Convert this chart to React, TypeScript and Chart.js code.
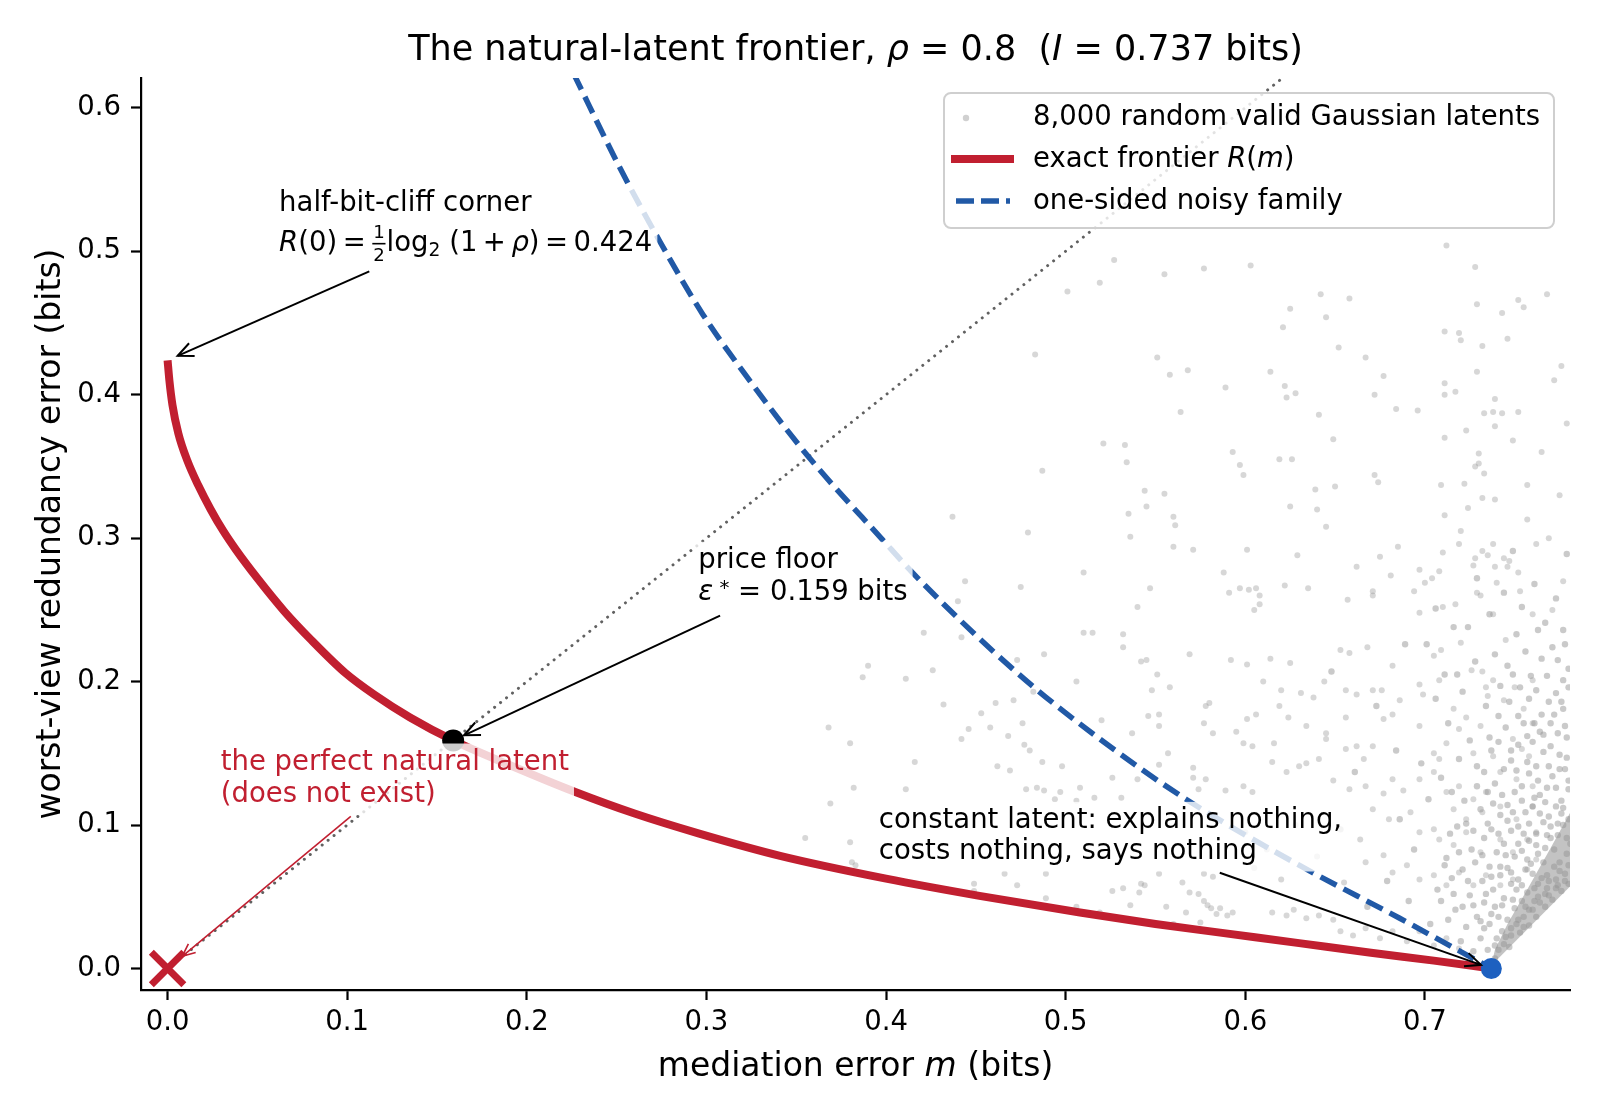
import React, { useEffect, useRef } from 'react';
import { Chart, registerables } from 'chart.js';

Chart.register(...registerables);

const FONT = "'DejaVu Sans', 'Noto Sans', sans-serif";
const RED = '#c11f30';
const NOISY_BLUE = '#2159a6';
const DOT_BLUE = '#1d60c0';
const TICK_SIZE = 27.5;
const NOTE_SIZE = 27.5;
const THIN = '\u2009';

// axis ranges and ticks
const X_MIN = -0.0148;
const X_MAX = 0.7808;
const Y_MIN = -0.015;
const Y_MAX = 0.6208;
const xTicks = [0, 0.1, 0.2, 0.3, 0.4, 0.5, 0.6, 0.7];
const yTicks = [0, 0.1, 0.2, 0.3, 0.4, 0.5, 0.6];

// exact frontier R(m)
const frontierM = [0, 0.001, 0.0027, 0.006, 0.011, 0.017, 0.024, 0.031, 0.038, 0.05, 0.065, 0.08, 0.099, 0.115, 0.135, 0.159, 0.19, 0.227, 0.26, 0.296, 0.341, 0.4, 0.452, 0.508, 0.55, 0.586, 0.63, 0.67, 0.705, 0.737];
const frontierR = [0.424, 0.41, 0.393, 0.373, 0.354, 0.337, 0.32, 0.305, 0.292, 0.272, 0.249, 0.229, 0.206, 0.191, 0.175, 0.159, 0.142, 0.123, 0.108, 0.094, 0.0785, 0.0626, 0.0506, 0.039, 0.031, 0.025, 0.0177, 0.011, 0.0055, 0.0];

// one-sided noisy family
const noisyM = [0.226, 0.2515, 0.274, 0.298, 0.324, 0.356, 0.398, 0.417, 0.474, 0.519, 0.567, 0.63, 0.686, 0.737];
const noisyR = [0.624, 0.559, 0.507, 0.456, 0.41, 0.358, 0.299, 0.273, 0.205, 0.16, 0.118, 0.072, 0.035, 0.0];

// the m = R diagonal
const diagonalM = [0, 0.625];
const diagonalR = [0, 0.625];

// special points
const perfectLatent = [0, 0];
const priceFloor = [0.159, 0.159];
const constantLatent = [0.737, 0];

// solid-looking core of the cloud, next to the constant latent
const denseCoreM = [0.737, 0.7815, 0.7815, 0.77, 0.757, 0.746, 0.739, 0.737];
const denseCoreR = [0.002, 0.058, 0.11, 0.084, 0.055, 0.031, 0.013, 0.002];

// random valid Gaussian latents (a sample of the cloud)
const upperLatents: [number, number][] = [
  [0.527, 0.494], [0.501, 0.472], [0.519, 0.478], [0.555, 0.484], [0.577, 0.488], [0.603, 0.49], [0.712, 0.504], [0.728, 0.489],
  [0.642, 0.47], [0.658, 0.467], [0.625, 0.46], [0.645, 0.454], [0.621, 0.447], [0.729, 0.463], [0.743, 0.457], [0.752, 0.466],
  [0.755, 0.461], [0.711, 0.444], [0.719, 0.443], [0.72, 0.438], [0.732, 0.434], [0.746, 0.439], [0.652, 0.433], [0.667, 0.426],
  [0.483, 0.428], [0.551, 0.426], [0.558, 0.414], [0.568, 0.417], [0.614, 0.416], [0.589, 0.405], [0.622, 0.406], [0.628, 0.401],
  [0.623, 0.398], [0.677, 0.413], [0.672, 0.4], [0.729, 0.416], [0.711, 0.408], [0.711, 0.4], [0.717, 0.402], [0.739, 0.397],
  [0.733, 0.387], [0.738, 0.388], [0.743, 0.387], [0.752, 0.388], [0.739, 0.378], [0.564, 0.388], [0.641, 0.386], [0.684, 0.39],
  [0.696, 0.389], [0.723, 0.375], [0.711, 0.37], [0.749, 0.368], [0.649, 0.369], [0.521, 0.366], [0.533, 0.365], [0.534, 0.353],
  [0.593, 0.36], [0.597, 0.351], [0.599, 0.344], [0.619, 0.355], [0.626, 0.355], [0.73, 0.359], [0.73, 0.352], [0.728, 0.35],
  [0.733, 0.345], [0.487, 0.347], [0.672, 0.344], [0.674, 0.339], [0.639, 0.334], [0.65, 0.336], [0.709, 0.337], [0.722, 0.338],
  [0.757, 0.337], [0.544, 0.333], [0.555, 0.331], [0.732, 0.328], [0.739, 0.327], [0.535, 0.317], [0.545, 0.322], [0.625, 0.322],
  [0.64, 0.32], [0.724, 0.321], [0.711, 0.316], [0.56, 0.315], [0.561, 0.309], [0.645, 0.308], [0.757, 0.313], [0.479, 0.304],
  [0.536, 0.301], [0.72, 0.305], [0.56, 0.294], [0.571, 0.292], [0.601, 0.292], [0.685, 0.294], [0.719, 0.296], [0.738, 0.296],
  [0.762, 0.296], [0.71, 0.29], [0.732, 0.291], [0.629, 0.288], [0.675, 0.287], [0.662, 0.28], [0.728, 0.286], [0.735, 0.288],
  [0.744, 0.286], [0.747, 0.284], [0.727, 0.281], [0.739, 0.28], [0.746, 0.28], [0.752, 0.276], [0.697, 0.278], [0.708, 0.277],
  [0.704, 0.272], [0.7, 0.269], [0.681, 0.274], [0.51, 0.276], [0.588, 0.276], [0.475, 0.266], [0.547, 0.265], [0.622, 0.267],
  [0.635, 0.265], [0.591, 0.262], [0.597, 0.265], [0.602, 0.264], [0.606, 0.265], [0.608, 0.26], [0.671, 0.263], [0.671, 0.26],
  [0.694, 0.263], [0.74, 0.269], [0.753, 0.263], [0.729, 0.262], [0.731, 0.26], [0.657, 0.257], [0.54, 0.252], [0.608, 0.254],
  [0.605, 0.25], [0.71, 0.252], [0.717, 0.254], [0.697, 0.248], [0.738, 0.247], [0.76, 0.247], [0.437, 0.315],
  [0.768, 0.47], [0.772, 0.41], [0.765, 0.36], [0.775, 0.33], [0.769, 0.3], [0.777, 0.27], [0.771, 0.25], [0.776, 0.42], [0.779, 0.38],
];

const middleLatents: [number, number][] = [
  [0.444, 0.27], [0.44, 0.256], [0.421, 0.234], [0.442, 0.231], [0.51, 0.234], [0.515, 0.234], [0.532, 0.233], [0.532, 0.224],
  [0.569, 0.219], [0.488, 0.219], [0.473, 0.215], [0.542, 0.214], [0.545, 0.215], [0.551, 0.205], [0.39, 0.211], [0.387, 0.203],
  [0.411, 0.202], [0.426, 0.208], [0.506, 0.2], [0.548, 0.194], [0.558, 0.196], [0.482, 0.193], [0.461, 0.185], [0.471, 0.187],
  [0.432, 0.184], [0.453, 0.178], [0.546, 0.176], [0.552, 0.177], [0.552, 0.169], [0.578, 0.183], [0.58, 0.185], [0.52, 0.173],
  [0.476, 0.171], [0.446, 0.167], [0.458, 0.168], [0.368, 0.168], [0.468, 0.162], [0.537, 0.164], [0.577, 0.171], [0.442, 0.16],
  [0.38, 0.157], [0.477, 0.156], [0.48, 0.152], [0.582, 0.164], [0.557, 0.15], [0.416, 0.144], [0.487, 0.144], [0.462, 0.141],
  [0.469, 0.138], [0.498, 0.141], [0.552, 0.142], [0.571, 0.14], [0.571, 0.133], [0.526, 0.133], [0.54, 0.132], [0.578, 0.132],
  [0.382, 0.126], [0.411, 0.125], [0.478, 0.125], [0.484, 0.126], [0.488, 0.124], [0.497, 0.123], [0.508, 0.126], [0.574, 0.125],
  [0.516, 0.119], [0.531, 0.119], [0.494, 0.118], [0.506, 0.117], [0.369, 0.115], [0.355, 0.091], [0.38, 0.088], [0.381, 0.074],
  [0.383, 0.072], [0.466, 0.066], [0.473, 0.058], [0.489, 0.066], [0.449, 0.059], [0.449, 0.054], [0.526, 0.054], [0.532, 0.056],
  [0.542, 0.059], [0.541, 0.053], [0.544, 0.058], [0.552, 0.066], [0.565, 0.06], [0.569, 0.053], [0.574, 0.052], [0.577, 0.047],
  [0.579, 0.044], [0.581, 0.042], [0.575, 0.032], [0.584, 0.038], [0.489, 0.049], [0.506, 0.043], [0.519, 0.039], [0.536, 0.044],
  [0.556, 0.043], [0.567, 0.039], [0.56, 0.031], [0.577, 0.066], [0.582, 0.064],
];

const lowerLatents: [number, number][] = [
  [0.592, 0.215], [0.601, 0.212], [0.614, 0.216], [0.625, 0.213], [0.653, 0.222], [0.658, 0.22], [0.668, 0.224], [0.682, 0.211],
  [0.705, 0.218], [0.709, 0.222], [0.72, 0.227], [0.726, 0.208], [0.732, 0.207], [0.745, 0.229], [0.738, 0.201], [0.734, 0.196],
  [0.75, 0.196], [0.76, 0.201], [0.61, 0.2], [0.62, 0.194], [0.631, 0.192], [0.638, 0.189], [0.644, 0.2], [0.656, 0.194],
  [0.662, 0.191], [0.671, 0.194], [0.676, 0.194], [0.697, 0.198], [0.699, 0.191], [0.708, 0.201], [0.716, 0.181], [0.723, 0.175],
  [0.735, 0.19], [0.744, 0.187], [0.755, 0.181], [0.76, 0.171], [0.595, 0.165], [0.601, 0.174], [0.606, 0.177], [0.619, 0.183],
  [0.624, 0.175], [0.634, 0.169], [0.645, 0.164], [0.645, 0.16], [0.656, 0.175], [0.656, 0.153], [0.662, 0.155], [0.666, 0.146],
  [0.671, 0.155], [0.677, 0.174], [0.682, 0.177], [0.686, 0.187], [0.697, 0.169], [0.705, 0.15], [0.708, 0.146], [0.712, 0.157],
  [0.719, 0.167], [0.731, 0.169], [0.727, 0.15], [0.738, 0.148], [0.749, 0.16], [0.754, 0.153], [0.758, 0.148], [0.742, 0.137],
  [0.751, 0.132], [0.76, 0.127], [0.599, 0.157], [0.604, 0.155], [0.616, 0.157], [0.589, 0.124], [0.599, 0.127], [0.604, 0.123],
  [0.615, 0.144], [0.623, 0.137], [0.63, 0.141], [0.634, 0.143], [0.641, 0.146], [0.649, 0.131], [0.658, 0.125], [0.667, 0.127],
  [0.677, 0.122], [0.688, 0.124], [0.682, 0.132], [0.697, 0.132], [0.705, 0.137], [0.712, 0.123], [0.719, 0.127], [0.727, 0.118],
  [0.734, 0.123], [0.716, 0.111], [0.723, 0.104], [0.732, 0.109], [0.742, 0.113], [0.751, 0.104], [0.76, 0.113], [0.671, 0.111],
  [0.68, 0.104], [0.692, 0.109], [0.697, 0.095], [0.705, 0.097], [0.708, 0.09], [0.716, 0.086], [0.723, 0.095], [0.731, 0.081],
  [0.742, 0.09], [0.749, 0.081], [0.757, 0.09], [0.762, 0.095], [0.664, 0.09], [0.667, 0.074], [0.677, 0.079], [0.682, 0.067],
  [0.69, 0.072], [0.697, 0.062], [0.705, 0.065], [0.712, 0.058], [0.719, 0.067], [0.727, 0.058], [0.734, 0.065], [0.742, 0.058],
  [0.749, 0.062], [0.757, 0.069], [0.762, 0.076], [0.586, 0.042], [0.59, 0.037], [0.593, 0.039], [0.615, 0.039], [0.623, 0.037],
  [0.627, 0.041], [0.634, 0.035], [0.641, 0.037], [0.649, 0.034], [0.653, 0.026], [0.66, 0.023], [0.667, 0.028], [0.675, 0.021],
  [0.682, 0.026], [0.69, 0.019], [0.697, 0.026], [0.705, 0.016], [0.712, 0.021], [0.719, 0.014], [0.6, 0.095], [0.612, 0.083],
  [0.628, 0.1], [0.64, 0.078], [0.655, 0.06], [0.62, 0.062], [0.605, 0.07],
];

const denseLatents: [number, number][] = [
  [0.739, 0.007], [0.741, 0.013], [0.744, 0.017], [0.747, 0.015], [0.748, 0.023], [0.743, 0.026], [0.751, 0.031], [0.753, 0.025],
  [0.755, 0.036], [0.758, 0.03], [0.76, 0.041], [0.762, 0.036], [0.764, 0.046], [0.767, 0.043], [0.769, 0.051], [0.771, 0.048],
  [0.773, 0.056], [0.776, 0.054], [0.778, 0.061], [0.78, 0.059], [0.74, 0.021], [0.746, 0.034], [0.75, 0.042], [0.754, 0.047],
  [0.757, 0.053], [0.761, 0.056], [0.765, 0.063], [0.768, 0.065], [0.772, 0.071], [0.775, 0.074], [0.779, 0.08], [0.781, 0.087],
  [0.736, 0.031], [0.739, 0.043], [0.744, 0.049], [0.748, 0.059], [0.752, 0.062], [0.756, 0.069], [0.759, 0.073], [0.763, 0.08],
  [0.767, 0.084], [0.77, 0.091], [0.774, 0.093], [0.777, 0.1], [0.78, 0.104], [0.733, 0.046], [0.738, 0.055], [0.742, 0.065],
  [0.746, 0.07], [0.75, 0.078], [0.754, 0.082], [0.758, 0.089], [0.762, 0.094], [0.766, 0.102], [0.769, 0.106], [0.773, 0.113],
  [0.776, 0.117], [0.78, 0.125], [0.729, 0.036], [0.732, 0.061], [0.736, 0.071], [0.74, 0.081], [0.744, 0.087], [0.748, 0.096],
  [0.752, 0.099], [0.756, 0.109], [0.76, 0.113], [0.764, 0.121], [0.768, 0.126], [0.771, 0.134], [0.775, 0.139], [0.779, 0.147],
  [0.725, 0.051], [0.728, 0.074], [0.733, 0.091], [0.737, 0.097], [0.742, 0.107], [0.746, 0.114], [0.75, 0.123], [0.754, 0.127],
  [0.758, 0.136], [0.762, 0.141], [0.766, 0.151], [0.77, 0.155], [0.774, 0.164], [0.778, 0.169], [0.721, 0.069], [0.727, 0.096],
  [0.731, 0.111], [0.735, 0.123], [0.739, 0.129], [0.744, 0.139], [0.748, 0.145], [0.752, 0.156], [0.757, 0.162], [0.761, 0.171],
  [0.765, 0.177], [0.769, 0.186], [0.773, 0.192], [0.777, 0.201], [0.78, 0.209], [0.717, 0.041], [0.723, 0.029], [0.731, 0.021],
  [0.735, 0.013], [0.727, 0.012], [0.72, 0.019], [0.713, 0.034], [0.709, 0.047], [0.715, 0.063], [0.719, 0.081], [0.723, 0.101],
  [0.729, 0.141], [0.736, 0.161], [0.741, 0.176], [0.747, 0.186], [0.753, 0.196], [0.759, 0.204], [0.765, 0.216], [0.771, 0.224],
  [0.777, 0.236],
  [0.703, 0.031], [0.707, 0.055], [0.711, 0.072], [0.714, 0.094], [0.702, 0.118], [0.709, 0.133], [0.713, 0.171], [0.706, 0.188],
  [0.718, 0.205], [0.701, 0.226], [0.721, 0.043], [0.724, 0.061], [0.726, 0.083], [0.722, 0.117], [0.729, 0.127], [0.725, 0.159],
  [0.721, 0.193], [0.728, 0.214], [0.724, 0.238], [0.729, 0.272], [0.733, 0.028], [0.734, 0.052], [0.737, 0.064], [0.732, 0.079],
  [0.735, 0.101], [0.738, 0.115], [0.733, 0.137], [0.737, 0.152], [0.734, 0.183], [0.739, 0.219], [0.736, 0.247], [0.741, 0.036],
  [0.743, 0.044], [0.742, 0.071], [0.745, 0.079], [0.741, 0.094], [0.746, 0.103], [0.743, 0.121], [0.741, 0.158], [0.745, 0.168],
  [0.742, 0.197], [0.746, 0.211], [0.744, 0.262], [0.748, 0.028], [0.749, 0.048], [0.751, 0.055], [0.748, 0.067], [0.752, 0.087],
  [0.749, 0.109], [0.751, 0.138], [0.748, 0.152], [0.752, 0.176], [0.749, 0.205], [0.751, 0.233], [0.749, 0.291], [0.755, 0.029],
  [0.756, 0.043], [0.754, 0.058], [0.757, 0.076], [0.755, 0.094], [0.758, 0.101], [0.754, 0.117], [0.757, 0.144], [0.755, 0.171],
  [0.758, 0.188], [0.756, 0.221], [0.754, 0.252], [0.761, 0.047], [0.763, 0.059], [0.76, 0.066], [0.762, 0.086], [0.764, 0.108],
  [0.761, 0.119], [0.763, 0.131], [0.76, 0.158], [0.764, 0.165], [0.762, 0.194], [0.763, 0.236], [0.761, 0.268], [0.767, 0.052],
  [0.769, 0.061], [0.766, 0.074], [0.768, 0.093], [0.77, 0.099], [0.767, 0.116], [0.769, 0.141], [0.766, 0.163], [0.77, 0.171],
  [0.768, 0.204], [0.767, 0.241], [0.773, 0.062], [0.775, 0.068], [0.772, 0.083], [0.774, 0.101], [0.776, 0.108], [0.773, 0.126],
  [0.775, 0.149], [0.772, 0.177], [0.776, 0.186], [0.774, 0.215], [0.773, 0.258], [0.778, 0.066], [0.78, 0.072], [0.779, 0.091],
  [0.777, 0.112], [0.78, 0.131], [0.778, 0.139], [0.779, 0.161], [0.777, 0.181], [0.78, 0.196], [0.778, 0.226], [0.779, 0.289],
  [0.745, 0.022], [0.752, 0.034], [0.758, 0.041], [0.763, 0.05], [0.768, 0.056], [0.774, 0.058], [0.739, 0.016], [0.737, 0.038],
  [0.731, 0.033], [0.727, 0.044], [0.716, 0.052], [0.712, 0.077], [0.718, 0.099], [0.715, 0.123], [0.719, 0.146], [0.711, 0.205],
  [0.716, 0.238], [0.706, 0.251], [0.698, 0.143], [0.694, 0.083], [0.691, 0.047], [0.686, 0.104], [0.684, 0.152], [0.689, 0.226],
  [0.679, 0.061], [0.673, 0.183], [0.668, 0.043], [0.661, 0.137], [0.653, 0.097], [0.648, 0.207],
];

type Run = { t: string; it?: boolean; sc?: number; dy?: number; frac?: [string, string] };

const titleRuns: Run[] = [
  { t: 'The natural-latent frontier, ' }, { t: 'ρ', it: true }, { t: ' = 0.8  (' }, { t: 'I', it: true }, { t: ' = 0.737 bits)' },
];
const xLabelRuns: Run[] = [{ t: 'mediation error ' }, { t: 'm', it: true }, { t: ' (bits)' }];
const yLabelRuns: Run[] = [{ t: 'worst-view redundancy error (bits)' }];
const legendRuns: Run[][] = [
  [{ t: '8,000 random valid Gaussian latents' }],
  [{ t: 'exact frontier ' }, { t: 'R', it: true }, { t: '(' }, { t: 'm', it: true }, { t: ')' }],
  [{ t: 'one-sided noisy family' }],
];

const notes = [
  {
    lines: [
      [{ t: 'half-bit-cliff corner' }],
      [
        { t: 'R', it: true }, { t: `(0)${THIN}=${THIN}` }, { t: '', frac: ['1', '2'] }, { t: 'log' }, { t: '2', sc: 0.68, dy: 0.15 },
        { t: ` (1${THIN}+${THIN}` }, { t: 'ρ', it: true }, { t: `)${THIN}=${THIN}0.424` },
      ],
    ] as Run[][],
    at: [0.0621, 0.5278], gap: 40, color: '#000', descent: 0.42,
    from: [0.1123, 0.486], to: [0, 0.424], shrink: 11, width: 2, head: 17,
  },
  {
    lines: [[{ t: 'price floor' }], [{ t: 'ε', it: true }, { t: ' *', sc: 0.72, dy: -0.24 }, { t: ' = 0.159 bits' }]] as Run[][],
    at: [0.2955, 0.279], gap: 32, color: '#000', descent: 0.26,
    from: [0.3076, 0.246], to: priceFloor, shrink: 12, width: 2, head: 17,
  },
  {
    lines: [[{ t: 'the perfect natural latent' }], [{ t: '(does not exist)' }]] as Run[][],
    at: [0.0296, 0.1384], gap: 32, color: RED, descent: 0.26,
    from: [0.102, 0.106], to: perfectLatent, shrink: 19, width: 1.6, head: 14,
  },
  {
    lines: [[{ t: 'constant latent: explains nothing,' }], [{ t: 'costs nothing, says nothing' }]] as Run[][],
    at: [0.396, 0.0977], gap: 31, color: '#000', descent: 0.26,
    from: [0.5858, 0.0667], to: constantLatent, shrink: 11, width: 2, head: 17,
  },
];

function setFont(ctx: CanvasRenderingContext2D, size: number, italic = false) {
  ctx.font = `${italic ? 'italic ' : ''}${size}px ${FONT}`;
}

function runWidth(ctx: CanvasRenderingContext2D, r: Run, size: number): number {
  if (r.frac) {
    setFont(ctx, size * 0.66);
    return Math.max(ctx.measureText(r.frac[0]).width, ctx.measureText(r.frac[1]).width) + size * 0.14;
  }
  setFont(ctx, size * (r.sc ?? 1), r.it);
  return ctx.measureText(r.t).width;
}

function lineWidth(ctx: CanvasRenderingContext2D, runs: Run[], size: number) {
  return runs.reduce((s, r) => s + runWidth(ctx, r, size), 0);
}

function drawRuns(ctx: CanvasRenderingContext2D, runs: Run[], x: number, y: number, size: number, color: string, align = 'left') {
  const widths = runs.map((r) => runWidth(ctx, r, size));
  const total = widths.reduce((a, b) => a + b, 0);
  let cx = align === 'center' ? x - total / 2 : x;
  ctx.save();
  ctx.fillStyle = color;
  ctx.textBaseline = 'alphabetic';
  runs.forEach((r, i) => {
    const w = widths[i];
    if (r.frac) {
      setFont(ctx, size * 0.66);
      const mid = cx + w / 2;
      ctx.textAlign = 'center';
      ctx.fillText(r.frac[0], mid, y - size * 0.5);
      ctx.fillText(r.frac[1], mid, y + size * 0.34);
      ctx.fillRect(cx + size * 0.04, y - size * 0.31, w - size * 0.08, 1.6);
    } else {
      ctx.textAlign = 'left';
      setFont(ctx, size * (r.sc ?? 1), r.it);
      ctx.fillText(r.t, cx, y + (r.dy ?? 0) * size);
    }
    cx += w;
  });
  ctx.restore();
  return total;
}

function drawArrow(ctx: CanvasRenderingContext2D, x1: number, y1: number, x2: number, y2: number, shrink: number, color: string, width: number, head: number) {
  const ang = Math.atan2(y2 - y1, x2 - x1);
  const tx = x2 - Math.cos(ang) * shrink;
  const ty = y2 - Math.sin(ang) * shrink;
  ctx.save();
  ctx.strokeStyle = color;
  ctx.lineWidth = width;
  ctx.beginPath();
  ctx.moveTo(x1, y1);
  ctx.lineTo(tx, ty);
  ctx.stroke();
  ctx.beginPath();
  ctx.moveTo(tx - head * Math.cos(ang - 0.42), ty - head * Math.sin(ang - 0.42));
  ctx.lineTo(tx, ty);
  ctx.lineTo(tx - head * Math.cos(ang + 0.42), ty - head * Math.sin(ang + 0.42));
  ctx.stroke();
  ctx.restore();
}

const overlayPlugin = {
  id: 'overlay',
  afterDatasetsDraw(chart: any) {
    const ctx: CanvasRenderingContext2D = chart.ctx;
    const xs = chart.scales.x;
    const ys = chart.scales.y;
    const pad = 5;
    // translucent boxes behind the annotation texts
    notes.forEach((n) => {
      const px = xs.getPixelForValue(n.at[0]);
      const py = ys.getPixelForValue(n.at[1]);
      const w = Math.max(...n.lines.map((l) => lineWidth(ctx, l, NOTE_SIZE)));
      const top = py - NOTE_SIZE * 0.78 - pad;
      const bottom = py + n.gap * (n.lines.length - 1) + NOTE_SIZE * n.descent + pad;
      ctx.save();
      ctx.fillStyle = 'rgba(255,255,255,0.8)';
      ctx.fillRect(px - pad, top, w + 2 * pad, bottom - top);
      ctx.restore();
    });
    notes.forEach((n) => {
      const px = xs.getPixelForValue(n.at[0]);
      const py = ys.getPixelForValue(n.at[1]);
      n.lines.forEach((l, i) => drawRuns(ctx, l, px, py + i * n.gap, NOTE_SIZE, n.color));
      drawArrow(
        ctx,
        xs.getPixelForValue(n.from[0]), ys.getPixelForValue(n.from[1]),
        xs.getPixelForValue(n.to[0]), ys.getPixelForValue(n.to[1]),
        n.shrink, n.color, n.width, n.head,
      );
    });
  },
  afterDraw(chart: any) {
    const ctx: CanvasRenderingContext2D = chart.ctx;
    const ca = chart.chartArea;
    const cx = (ca.left + ca.right) / 2;
    drawRuns(ctx, titleRuns, cx, 60, 35, '#000', 'center');
    drawRuns(ctx, xLabelRuns, cx, 1076, 33, '#000', 'center');
    ctx.save();
    ctx.translate(60, (ca.top + ca.bottom) / 2);
    ctx.rotate(-Math.PI / 2);
    drawRuns(ctx, yLabelRuns, 0, 0, 33, '#000', 'center');
    ctx.restore();

    // legend
    const lw = 610;
    const lh = 135;
    const lx = ca.right - 16 - lw;
    const ly = ca.top + 15;
    ctx.save();
    ctx.beginPath();
    ctx.roundRect(lx, ly, lw, lh, 7);
    ctx.fillStyle = 'rgba(255,255,255,0.82)';
    ctx.fill();
    ctx.strokeStyle = '#cfcfcf';
    ctx.lineWidth = 2;
    ctx.stroke();
    const hx = lx + 7;
    ctx.fillStyle = 'rgba(150,150,150,0.45)';
    ctx.beginPath();
    ctx.arc(lx + 22, ly + 25, 3.2, 0, Math.PI * 2);
    ctx.fill();
    ctx.strokeStyle = RED;
    ctx.lineWidth = 8;
    ctx.beginPath();
    ctx.moveTo(hx, ly + 66);
    ctx.lineTo(hx + 63, ly + 66);
    ctx.stroke();
    ctx.strokeStyle = NOISY_BLUE;
    ctx.lineWidth = 5.5;
    ctx.setLineDash([18, 7]);
    ctx.beginPath();
    ctx.moveTo(hx + 5, ly + 108);
    ctx.lineTo(hx + 59, ly + 108);
    ctx.stroke();
    ctx.restore();
    legendRuns.forEach((l, i) => drawRuns(ctx, l, lx + 89, ly + 32 + i * 42, NOTE_SIZE, '#000'));
  },
};

const toPoints = (xs: number[], ys: number[]) => xs.map((x, i) => ({ x, y: ys[i] }));

export default function App() {
  const canvasRef = useRef<HTMLCanvasElement>(null);

  useEffect(() => {
    document.body.style.margin = '0';
    if (!canvasRef.current) return;
    const sparse = [...upperLatents, ...middleLatents, ...lowerLatents].map(([x, y]) => ({ x, y }));
    const dense = denseLatents.map(([x, y]) => ({ x, y }));

    const axisCommon = {
      type: 'linear' as const,
      grid: { display: true, drawOnChartArea: false, drawTicks: true, tickLength: 10, tickWidth: 2.2, tickColor: '#000' },
      border: { display: true, color: '#000', width: 2.2 },
    };

    const chart = new Chart(canvasRef.current, {
      type: 'line',
      data: {
        datasets: [
          {
            data: [{ x: perfectLatent[0], y: perfectLatent[1] }],
            showLine: false, pointStyle: 'crossRot', pointRadius: 23, borderColor: RED, borderWidth: 7,
            backgroundColor: RED, order: 0,
          },
          {
            data: [{ x: priceFloor[0], y: priceFloor[1] }],
            showLine: false, pointStyle: 'circle', pointRadius: 11, backgroundColor: '#000', borderWidth: 0, order: 0,
          },
          {
            data: [{ x: constantLatent[0], y: constantLatent[1] }],
            showLine: false, pointStyle: 'circle', pointRadius: 10.5, backgroundColor: DOT_BLUE, borderWidth: 0, order: 0,
          },
          {
            data: toPoints(noisyM, noisyR),
            borderColor: NOISY_BLUE, borderWidth: 5.5, borderDash: [18, 8], pointRadius: 0,
            cubicInterpolationMode: 'monotone', fill: false, order: 1,
          },
          {
            data: toPoints(frontierM, frontierR),
            borderColor: RED, borderWidth: 8, pointRadius: 0, borderCapStyle: 'butt',
            cubicInterpolationMode: 'monotone', fill: false, order: 2,
          },
          {
            data: toPoints(diagonalM, diagonalR),
            borderColor: 'rgba(80,80,80,0.9)', borderWidth: 3, borderDash: [0.01, 7.6], borderCapStyle: 'round',
            pointRadius: 0, fill: false, order: 3,
          },
          {
            data: sparse,
            showLine: false, pointRadius: 3, pointStyle: 'circle', backgroundColor: 'rgba(150,150,150,0.38)',
            borderWidth: 0, order: 4,
          },
          {
            data: dense,
            showLine: false, pointRadius: 3.2, pointStyle: 'circle', backgroundColor: 'rgba(150,150,150,0.5)',
            borderWidth: 0, order: 4,
          },
          {
            data: toPoints(denseCoreM, denseCoreR),
            borderWidth: 0, pointRadius: 0, fill: 'shape', backgroundColor: 'rgba(172,172,172,0.72)', tension: 0, order: 5,
          },
        ] as any,
      },
      options: {
        responsive: false,
        devicePixelRatio: 1,
        animation: false,
        events: [],
        layout: { padding: { top: 78, right: 30, left: 0, bottom: 0 } },
        plugins: { legend: { display: false }, tooltip: { enabled: false }, title: { display: false } },
        scales: {
          x: {
            ...axisCommon,
            min: X_MIN,
            max: X_MAX,
            afterBuildTicks: (s: any) => { s.ticks = xTicks.map((value) => ({ value })); },
            afterFit: (s: any) => { s.height = 130; },
            ticks: {
              color: '#000', font: { family: FONT, size: TICK_SIZE }, padding: 6, maxRotation: 0, autoSkip: false,
              callback: (v: any) => Number(v).toFixed(1),
            },
          },
          y: {
            ...axisCommon,
            min: Y_MIN,
            max: Y_MAX,
            afterBuildTicks: (s: any) => { s.ticks = yTicks.map((value) => ({ value })); },
            afterFit: (s: any) => { s.width = 141; },
            ticks: {
              color: '#000', font: { family: FONT, size: TICK_SIZE }, padding: 10, autoSkip: false,
              callback: (v: any) => Number(v).toFixed(1),
            },
          },
        },
      } as any,
      plugins: [overlayPlugin],
    });

    return () => chart.destroy();
  }, []);

  return (
    <div style={{ width: 1600, height: 1120, background: '#fff' }}>
      <canvas ref={canvasRef} width={1600} height={1120} style={{ display: 'block' }} />
    </div>
  );
}
